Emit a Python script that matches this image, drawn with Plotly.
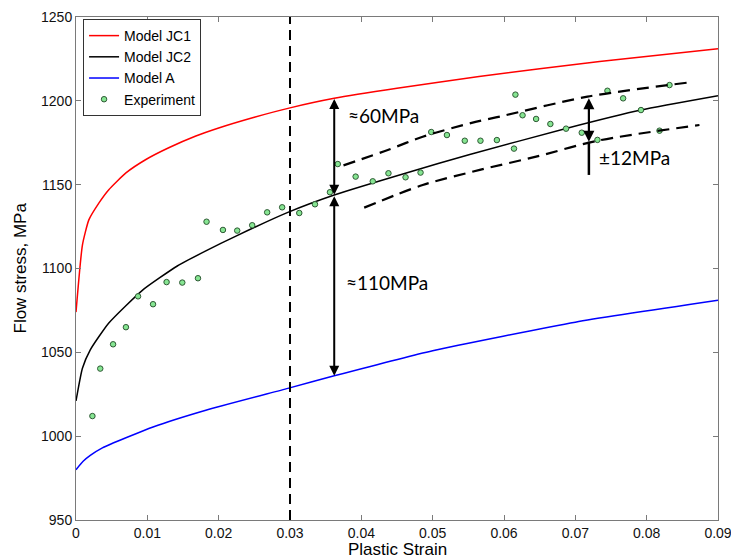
import plotly.graph_objects as go

# ---- data ----
jc1_strain = [0, 0.0009, 0.0018, 0.0032, 0.0046, 0.007, 0.0098, 0.013, 0.0168, 0.02, 0.025, 0.03, 0.0362, 0.045, 0.0565, 0.0734, 0.09]
jc1_stress = [1074, 1114, 1129, 1139, 1147, 1157, 1165, 1172, 1179, 1183.8, 1190.2, 1195.8, 1201.5, 1207.5, 1214.5, 1223.5, 1231]

jc2_strain = [0, 0.0009, 0.002, 0.0046, 0.0093, 0.0142, 0.0182, 0.0225, 0.0297, 0.0363, 0.0463, 0.0552, 0.0687, 0.0792, 0.09]
jc2_stress = [1021, 1040.5, 1051.5, 1067.5, 1087, 1101.5, 1110.5, 1119.5, 1133.5, 1144, 1157, 1168, 1183.5, 1194.5, 1203]

a_strain = [0, 0.001, 0.002, 0.0037, 0.0108, 0.0182, 0.0297, 0.0362, 0.05, 0.07, 0.09]
a_stress = [980, 985, 988.5, 993, 1005.5, 1015.5, 1028.5, 1036, 1051, 1068, 1081]

exp_strain = [0.0023, 0.0034, 0.0052, 0.0070, 0.0087, 0.0108, 0.0127, 0.0149, 0.0171, 0.0183,
              0.0206, 0.0226, 0.0247, 0.0268, 0.0289, 0.0313, 0.0335, 0.0356, 0.0367, 0.0392,
              0.0416, 0.0438, 0.0462, 0.0483, 0.0498, 0.0520, 0.0545, 0.0567, 0.0590, 0.0614,
              0.0616, 0.0626, 0.0645, 0.0665, 0.0687, 0.0709, 0.0731, 0.0745, 0.0767, 0.0792,
              0.0818, 0.0832]
exp_stress = [1012, 1040.3, 1054.8, 1065, 1083.4, 1078.7, 1091.9, 1091.6, 1094.2, 1127.9,
              1123, 1122.6, 1125.8, 1133.5, 1136.5, 1133.1, 1138.3, 1145.5, 1162.3, 1154.8,
              1152, 1156.8, 1154.4, 1157.2, 1181.4, 1179.6, 1176.2, 1176.2, 1176.6, 1171.5,
              1203.7, 1191.4, 1189.2, 1186.2, 1183.4, 1181, 1176.7, 1206, 1201.5, 1194.5,
              1182.2, 1209.4]

band_up_strain = [0.0375, 0.0439, 0.0486, 0.0556, 0.0594, 0.0717, 0.0856]
band_up_stress = [1161.5, 1171, 1178.6, 1187, 1190.6, 1202.5, 1210.8]
band_lo_strain = [0.0404, 0.0486, 0.0566, 0.0645, 0.0731, 0.0874]
band_lo_stress = [1136.3, 1149.8, 1158.8, 1166.7, 1176.2, 1185.6]

x_ticks = [0, 0.01, 0.02, 0.03, 0.04, 0.05, 0.06, 0.07, 0.08, 0.09]
x_tick_labels = ["0", "0.01", "0.02", "0.03", "0.04", "0.05", "0.06", "0.07", "0.08", "0.09"]
y_ticks = [950, 1000, 1050, 1100, 1150, 1200, 1250]

ref_strain = 0.03
arrow_strain = 0.0362
arrow_vals = [1202, 1144, 1036]   # JC1, JC2, A at arrow position
pm_strain = 0.0719
pm_vals = [1202.5, 1175.6, 1155.8]

FONT = "Liberation Sans, Arial, sans-serif"
ANN_FONT = "Lato, Open Sans, sans-serif"

fig = go.Figure()
fig.add_trace(go.Scatter(x=jc1_strain, y=jc1_stress, mode="lines", name="Model JC1",
                         line=dict(color="#ff0000", width=1.5, shape="spline", smoothing=0.5)))
fig.add_trace(go.Scatter(x=jc2_strain, y=jc2_stress, mode="lines", name="Model JC2",
                         line=dict(color="#000000", width=1.5, shape="spline", smoothing=0.5)))
fig.add_trace(go.Scatter(x=a_strain, y=a_stress, mode="lines", name="Model A",
                         line=dict(color="#0000ff", width=1.5, shape="spline", smoothing=0.5)))
fig.add_trace(go.Scatter(x=exp_strain, y=exp_stress, mode="markers", name="Experiment",
                         marker=dict(symbol="circle", size=5.5, color="#86e592",
                                     line=dict(color="#2f5a35", width=1))))
for bx, by in [(band_up_strain, band_up_stress), (band_lo_strain, band_lo_stress)]:
    fig.add_trace(go.Scatter(x=bx, y=by, mode="lines", showlegend=False, hoverinfo="skip",
                             line=dict(color="black", width=2.2, dash="12px,7px",
                                       shape="spline", smoothing=0.8)))

# vertical dashed line
fig.add_shape(type="line", x0=ref_strain, x1=ref_strain, y0=950, y1=1250, xref="x", yref="y",
              line=dict(color="black", width=2, dash="10px,6px"))
# extension line under ±12 arrow
fig.add_shape(type="line", x0=pm_strain, x1=pm_strain, y0=pm_vals[1], y1=pm_vals[2],
              xref="x", yref="y", line=dict(color="black", width=2.5))

def dbl_arrow(x, y0, y1, width=2):
    fig.add_annotation(x=x, y=y1, ax=x, ay=y0, xref="x", yref="y", axref="x", ayref="y",
                       text="", showarrow=True, arrowhead=2, startarrowhead=2,
                       arrowside="end+start", arrowsize=1, startarrowsize=1,
                       arrowwidth=width, arrowcolor="black", standoff=0, startstandoff=0)

dbl_arrow(arrow_strain, arrow_vals[0], arrow_vals[1])
dbl_arrow(arrow_strain, arrow_vals[1], arrow_vals[2])
dbl_arrow(pm_strain, pm_vals[0], pm_vals[1], width=2.2)

for txt, x, y in [("≈60MPa", 0.0379, 1191.5), ("≈110MPa", 0.0376, 1091.4), ("±12MPa", 0.0731, 1166)]:
    fig.add_annotation(x=x, y=y, xref="x", yref="y", text=txt, showarrow=False,
                       xanchor="left", yanchor="middle", font=dict(family=ANN_FONT, size=19, color="black"))

# axis titles
fig.add_annotation(x=0.5, y=0, xref="paper", yref="paper", yshift=-29, text="Plastic Strain",
                   showarrow=False, xanchor="center", yanchor="middle",
                   font=dict(family=FONT, size=17, color="black"))
fig.add_annotation(x=0, y=0.5, xref="paper", yref="paper", xshift=-56, text="Flow stress, MPa",
                   showarrow=False, textangle=-90, xanchor="center", yanchor="middle",
                   font=dict(family=FONT, size=17, color="black"))

axis_common = dict(showgrid=False, zeroline=False, showline=True, linecolor="#7a7a7a", linewidth=1,
                   mirror="ticks", ticks="inside", ticklen=5, tickcolor="#7a7a7a",
                   tickfont=dict(family=FONT, size=14, color="#111"), ticklabeloverflow="allow",
                   automargin=False)
fig.update_xaxes(range=[0, 0.09], tickvals=x_ticks, ticktext=x_tick_labels, **axis_common)
fig.update_yaxes(range=[950, 1250], tickvals=y_ticks, **axis_common)

fig.update_layout(
    width=731, height=560,
    margin=dict(l=76, r=13, t=17, b=40, autoexpand=False),
    paper_bgcolor="white", plot_bgcolor="white",
    legend=dict(x=0.011, y=0.996, xanchor="left", yanchor="top", bgcolor="white",
                bordercolor="#333", borderwidth=1, font=dict(family=FONT, size=14, color="black"),
                tracegroupgap=0, itemwidth=30),
    showlegend=True,
)

fig.write_html("out.html")
